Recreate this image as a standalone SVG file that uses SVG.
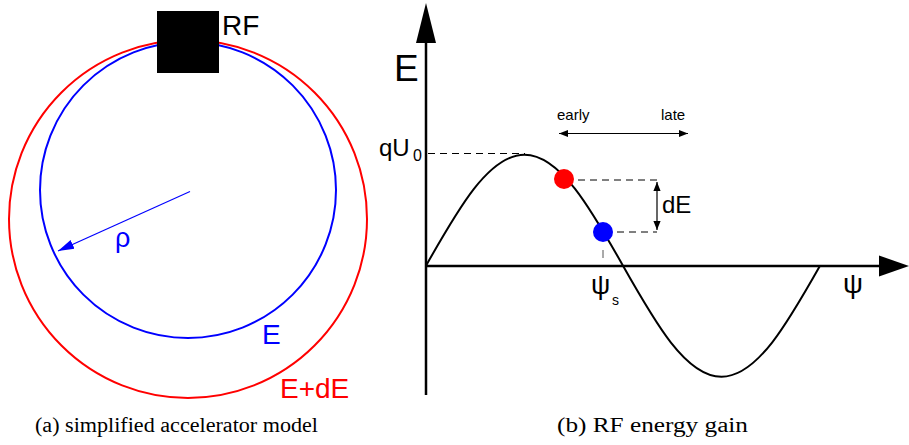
<svg xmlns="http://www.w3.org/2000/svg" width="909" height="445" viewBox="0 0 909 445">
<style>
.s{font-family:"Liberation Sans",Arial,sans-serif}
.cap{font-family:"Liberation Serif","Times New Roman",serif;font-size:20px;fill:#000}
.ax{stroke:#000;stroke-width:2.5;fill:none}
.dash{stroke:#000;stroke-width:1;stroke-dasharray:7,5;fill:none}
</style>
<defs>
<marker id="ab" viewBox="0 0 10 10" refX="10" refY="5" markerWidth="9" markerHeight="9" markerUnits="userSpaceOnUse" orient="auto-start-reverse"><path d="M0,1 L10,5 L0,9 Z" fill="#000"/></marker>
<marker id="ar" viewBox="0 0 10 10" refX="10" refY="5" markerWidth="16" markerHeight="16" markerUnits="userSpaceOnUse" orient="auto"><path d="M0,2 L10,5 L0,8 Z" fill="#00f"/></marker>
</defs>
<g id="ring-E+dE"><circle cx="188" cy="219" r="179" fill="none" stroke="#f00" stroke-width="2"/><text class="s" x="280" y="398" font-size="28" fill="#f00">E+dE</text></g>
<g id="ring-E"><circle cx="188" cy="190" r="148" fill="none" stroke="#00f" stroke-width="2"/><text class="s" x="262" y="344" font-size="28" fill="#00f">E</text></g>
<g id="rf"><rect x="157" y="11" width="62" height="62" fill="#000"/><text class="s" x="222" y="35" font-size="28" fill="#000">RF</text></g>
<g id="radius"><line x1="190" y1="191.5" x2="58" y2="251" stroke="#00f" stroke-width="1.2" marker-end="url(#ar)"/><text class="s" x="115" y="247" font-size="27" fill="#00f">ρ</text></g>
<g id="axes">
<line class="ax" x1="426" y1="395" x2="426" y2="40"/>
<polygon points="416,43 436,43 426,3" fill="#000"/>
<line class="ax" x1="426" y1="266" x2="882" y2="266"/>
<polygon points="879,255.5 879,276.5 909,266" fill="#000"/>
<text class="s" x="394" y="81" font-size="37" fill="#000">E</text>
<text class="s" x="843" y="293" font-size="28" fill="#000">ψ</text>
<text class="s" x="591" y="294" font-size="27" fill="#000">ψ</text><text class="s" x="612" y="305" font-size="14" fill="#000">s</text>
<text class="s" x="379" y="156" font-size="24" fill="#000">qU</text><text class="s" x="413" y="161" font-size="16" fill="#000">0</text>
</g>
<g id="curve"><path d="M426,265.7 C458.13,208.84 488.86,154.7 524.5,154.7 C560.14,154.7 590.87,208.84 623,265.7 C655.13,322.56 685.86,376.7 721.5,376.7 C757.14,376.7 787.87,322.56 820,265.7" fill="none" stroke="#000" stroke-width="2"/></g>
<g id="connectors">
<line class="dash" x1="428" y1="153.5" x2="525" y2="153.5"/>
<line class="dash" x1="578" y1="180" x2="657" y2="180"/>
<line class="dash" x1="617" y1="232" x2="657" y2="232"/>
<line x1="657" y1="182" x2="657" y2="230" stroke="#000" stroke-width="1.2" marker-start="url(#ab)" marker-end="url(#ab)"/>
<line x1="603" y1="250" x2="603" y2="258" stroke="#555" stroke-width="1"/>
<line x1="559" y1="133.5" x2="688" y2="133.5" stroke="#000" stroke-width="1.2" marker-start="url(#ab)" marker-end="url(#ab)"/>
</g>
<g id="dE-label"><text class="s" x="662" y="213" font-size="24" fill="#000">dE</text></g>
<g id="early-late"><text class="s" x="557" y="120" font-size="15" fill="#000">early</text><text class="s" x="661" y="120" font-size="15" fill="#000">late</text></g>
<g id="particle-red"><circle cx="564" cy="179" r="10" fill="#f00"/></g>
<g id="particle-blue"><circle cx="603" cy="232" r="10" fill="#00f"/></g>
<text class="cap" x="35" y="432" textLength="283" lengthAdjust="spacingAndGlyphs">(a) simplified accelerator model</text>
<text class="cap" x="557" y="432" textLength="191" lengthAdjust="spacingAndGlyphs">(b) RF energy gain</text>
</svg>
